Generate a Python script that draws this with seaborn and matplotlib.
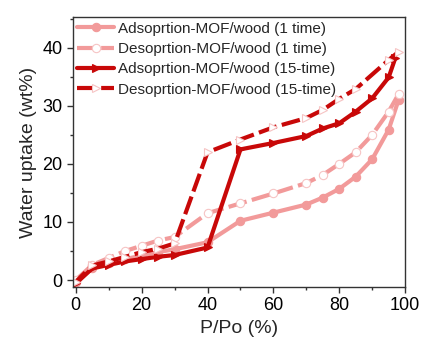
import numpy as np
import pandas as pd
import matplotlib
matplotlib.use("Agg")
import matplotlib.pyplot as plt
import seaborn as sns
from matplotlib.ticker import MultipleLocator

# data
ads1_x = [0, 5, 10, 15, 20, 25, 30, 40, 50, 60, 70, 75, 80, 85, 90, 95, 98]
ads1_y = [-0.3, 2.0, 3.0, 3.6, 4.2, 4.8, 5.3, 6.5, 10.2, 11.6, 13.0, 14.2, 15.7, 17.8, 20.8, 25.9, 31.0]
des1_x = [98, 95, 90, 85, 80, 75, 70, 60, 50, 40, 30, 25, 20, 15, 10, 5, 0]
des1_y = [32.0, 29.0, 25.0, 22.0, 20.0, 18.1, 16.7, 14.9, 13.2, 11.5, 7.4, 6.8, 5.9, 5.0, 3.8, 2.6, 0.0]
ads15_x = [0, 5, 10, 15, 20, 25, 30, 40, 50, 60, 70, 75, 80, 85, 90, 95, 97]
ads15_y = [-0.6, 2.0, 2.6, 3.2, 3.6, 4.0, 4.3, 5.6, 22.5, 23.6, 24.8, 26.1, 27.0, 29.0, 31.3, 34.9, 38.2]
des15_x = [98, 95, 85, 80, 75, 70, 60, 50, 40, 30, 25, 20, 15, 10, 5, 0]
des15_y = [39.3, 37.9, 32.9, 31.2, 29.3, 27.9, 26.3, 24.2, 22.0, 6.3, 5.4, 4.8, 4.0, 3.2, 2.5, -0.3]

labels = ["Adsoprtion-MOF/wood (1 time)", "Desoprtion-MOF/wood (1 time)",
          "Adsoprtion-MOF/wood (15-time)", "Desoprtion-MOF/wood (15-time)"]

light = "#f29a9a"
dark = "#c80808"

sns.set_style("ticks")
plt.rcParams["font.family"] = ["Liberation Sans", "DejaVu Sans"]

fig = plt.figure(figsize=(4.26, 3.47), dpi=100)
ax = fig.add_axes([0.171, 0.173, 0.78, 0.778])

dash = (0, (4.5, 1.3))
series = [
    (ads1_x, ads1_y, light, "-", "o", light),
    (des1_x, des1_y, light, dash, "o", "white"),
    (ads15_x, ads15_y, dark, "-", ">", dark),
    (des15_x, des15_y, dark, dash, ">", "white"),
]

for (x, y, c, ls, mk, mfc), lab in zip(series, labels):
    sns.lineplot(x=x, y=y, ax=ax, sort=False, color=c, linewidth=3,
                 marker=mk, markersize=6, markerfacecolor=mfc,
                 markeredgecolor=c if mfc != "white" else "#f6c4c4",
                 markeredgewidth=0.8, linestyle=ls, label=lab)

ax.set_xlim(-0.9, 100)
ax.set_ylim(-1.2, 45.3)
ax.xaxis.set_major_locator(MultipleLocator(20))
ax.xaxis.set_minor_locator(MultipleLocator(10))
ax.yaxis.set_major_locator(MultipleLocator(10))
ax.yaxis.set_minor_locator(MultipleLocator(5))
ax.tick_params(which="both", direction="out", width=1, colors="#333333",
               labelcolor="black", labelsize=13)
ax.tick_params(which="major", length=4)
ax.tick_params(which="minor", length=2.5)
for s in ax.spines.values():
    s.set_visible(True)
    s.set_color("#333333")
    s.set_linewidth(1)

ax.set_xlabel("P/Po (%)", fontsize=14)
ax.set_ylabel("Water uptake (wt%)", fontsize=14)

leg = ax.legend(loc="upper left", frameon=False, fontsize=11, handlelength=2.4,
                handletextpad=0.25, labelspacing=0.42, borderaxespad=0.1,
                borderpad=0.2, bbox_to_anchor=(0.0, 1.0))

fig.savefig("out.png", dpi=100)
